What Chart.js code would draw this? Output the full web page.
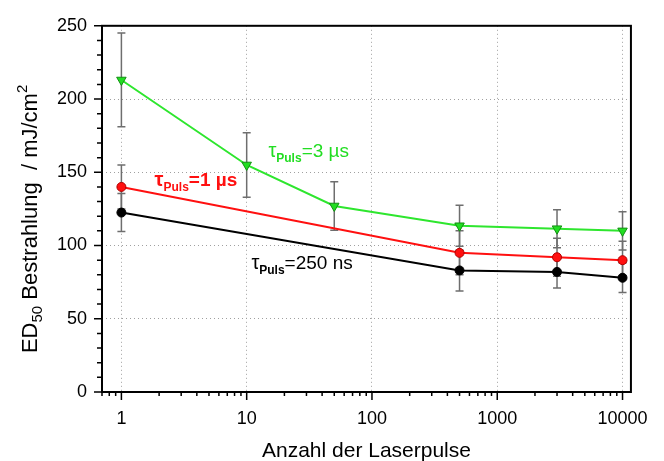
<!DOCTYPE html>
<html>
<head>
<meta charset="utf-8">
<script src="https://cdn.jsdelivr.net/npm/chart.js@4.4.0/dist/chart.umd.min.js"></script>
<style>
  html, body { margin: 0; padding: 0; background: #fff; }
</style>
</head>
<body>
<canvas id="edChart" width="664" height="461"></canvas>
<script>
// ED50 vs. number of laser pulses, one series per pulse duration
var pulses3us = [1, 10, 50, 500, 3000, 10000];
var ed3us = [213, 155, 127, 113.5, 111.5, 110];
var err3us = [32, 22, 16.5, 14, 13, 13];

var pulses1us = [1, 500, 3000, 10000];
var ed1us = [140, 95, 92, 90];
var err1us = [15, 15, 13, 13];

var pulses250ns = [1, 500, 3000, 10000];
var ed250ns = [122.5, 83, 82, 78];
var err250ns = [13, 14, 11, 10];

var xTicks = [1, 10, 100, 1000, 10000];
var yTicks = [0, 50, 100, 150, 200, 250];

var FONT = '"Liberation Sans", Arial, sans-serif';

function toPoints(xs, ys) {
  return xs.map(function (x, i) { return { x: x, y: ys[i] }; });
}

// frame, tick marks, error bars, curve labels and axis titles
var decorations = {
  id: 'decorations',
  beforeDatasetsDraw: function (chart) {
    var ctx = chart.ctx, xs = chart.scales.x, ys = chart.scales.y;
    ctx.save();
    ctx.strokeStyle = '#6e6e6e';
    ctx.lineWidth = 1.5;
    chart.data.datasets.forEach(function (ds) {
      ds.data.forEach(function (p, j) {
        var e = ds.errors[j];
        var px = xs.getPixelForValue(p.x);
        var top = ys.getPixelForValue(p.y + e);
        var bot = ys.getPixelForValue(p.y - e);
        ctx.beginPath();
        ctx.moveTo(px, top); ctx.lineTo(px, bot);
        ctx.moveTo(px - 4, top); ctx.lineTo(px + 4, top);
        ctx.moveTo(px - 4, bot); ctx.lineTo(px + 4, bot);
        ctx.stroke();
      });
    });
    ctx.restore();
  },
  afterDraw: function (chart) {
    var ctx = chart.ctx, a = chart.chartArea;
    var xs = chart.scales.x, ys = chart.scales.y;
    ctx.save();
    ctx.strokeStyle = '#000';

    // tick marks
    ctx.lineWidth = 1.5;
    ctx.beginPath();
    for (var d = 0.1; d <= 10000; d *= 10) {
      for (var k = 1; k <= 9; k++) {
        var v = d * k;
        if (v < xs.min || v > xs.max) continue;
        var px = xs.getPixelForValue(v);
        ctx.moveTo(px, a.bottom);
        ctx.lineTo(px, a.bottom + (k === 1 ? 8 : 4));
      }
    }
    for (var y = 0; y <= 250; y += 10) {
      var py = ys.getPixelForValue(y);
      ctx.moveTo(a.left, py);
      ctx.lineTo(a.left - (y % 50 === 0 ? 8 : 5), py);
    }
    ctx.stroke();

    // frame
    ctx.lineWidth = 2;
    ctx.strokeRect(a.left, a.top, a.right - a.left, a.bottom - a.top);

    // curve labels: tau with bold subscript
    var labels = [
      { x: 14.9, y: 160.4, main: '=3 µs', color: '#22dd22', weight: '' },
      { x: 1.84, y: 140.6, main: '=1 µs', color: '#ff1010', weight: 'bold ' },
      { x: 10.9, y: 83.8, main: '=250 ns', color: '#000', weight: '' }
    ];
    ctx.textBaseline = 'alphabetic';
    ctx.textAlign = 'left';
    labels.forEach(function (l) {
      var lx = xs.getPixelForValue(l.x);
      var ly = ys.getPixelForValue(l.y);
      ctx.fillStyle = l.color;
      ctx.font = l.weight + '20px ' + FONT;
      ctx.fillText('τ', lx, ly);
      lx += ctx.measureText('τ').width;
      ctx.font = 'bold 12px ' + FONT;
      ctx.fillText('Puls', lx, ly + 5);
      lx += ctx.measureText('Puls').width;
      ctx.font = l.weight + '19px ' + FONT;
      ctx.fillText(l.main, lx, ly);
    });

    // x axis title
    ctx.fillStyle = '#000';
    ctx.font = '21px ' + FONT;
    ctx.textAlign = 'center';
    ctx.fillText('Anzahl der Laserpulse', (a.left + a.right) / 2, 457);

    // y axis title with subscript and superscript
    var parts = [
      { t: 'ED', size: 22, dy: 0 },
      { t: '50', size: 15, dy: 5 },
      { t: ' Bestrahlung  / mJ/cm', size: 22, dy: 0 },
      { t: '2', size: 15, dy: -10 }
    ];
    ctx.textAlign = 'left';
    var total = 0;
    parts.forEach(function (p) {
      ctx.font = p.size + 'px ' + FONT;
      p.w = ctx.measureText(p.t).width;
      total += p.w;
    });
    ctx.translate(37, (a.top + a.bottom) / 2 + 10);
    ctx.rotate(-Math.PI / 2);
    var cx = -total / 2;
    parts.forEach(function (p) {
      ctx.font = p.size + 'px ' + FONT;
      ctx.fillText(p.t, cx, p.dy);
      cx += p.w;
    });
    ctx.restore();
  }
};

var ctx = document.getElementById('edChart').getContext('2d');
var chart = new Chart(ctx, {
  type: 'scatter',
  data: {
    datasets: [
      {
        label: '250 ns',
        data: toPoints(pulses250ns, ed250ns),
        errors: err250ns,
        showLine: true,
        borderColor: '#000',
        backgroundColor: '#000',
        borderWidth: 2,
        pointRadius: 4.5,
        pointBorderWidth: 1
      },
      {
        label: '1 µs',
        data: toPoints(pulses1us, ed1us),
        errors: err1us,
        showLine: true,
        borderColor: '#ff1010',
        backgroundColor: '#ff1010',
        pointBorderColor: '#b00000',
        borderWidth: 2,
        pointRadius: 4.5,
        pointBorderWidth: 1
      },
      {
        label: '3 µs',
        data: toPoints(pulses3us, ed3us),
        errors: err3us,
        showLine: true,
        borderColor: '#2ee62e',
        backgroundColor: '#22dd22',
        pointBorderColor: '#139013',
        borderWidth: 2,
        pointStyle: 'triangle',
        rotation: 180,
        pointRadius: 5.5,
        pointBorderWidth: 1
      }
    ]
  },
  options: {
    responsive: false,
    animation: false,
    layout: { padding: { top: 18, right: 28, left: 0, bottom: 0 } },
    plugins: { legend: { display: false }, tooltip: { enabled: false } },
    scales: {
      x: {
        type: 'logarithmic',
        min: 0.708,
        max: 11670,
        afterBuildTicks: function (s) { s.ticks = xTicks.map(function (v) { return { value: v }; }); },
        afterFit: function (s) { s.height = 69; },
        grid: { color: '#a0a0a0', lineWidth: 1, drawTicks: false },
        border: { display: false, dash: [1, 3] },
        ticks: {
          padding: 16,
          color: '#000',
          font: { family: FONT, size: 18 },
          maxRotation: 0,
          autoSkip: false,
          callback: function (v) { return String(v); }
        }
      },
      y: {
        min: 0,
        max: 250,
        afterBuildTicks: function (s) { s.ticks = yTicks.map(function (v) { return { value: v }; }); },
        afterFit: function (s) { s.width = 102; },
        grid: { color: '#a0a0a0', lineWidth: 1, drawTicks: false },
        border: { display: false, dash: [1, 3] },
        ticks: {
          padding: 15,
          color: '#000',
          font: { family: FONT, size: 18 }
        }
      }
    }
  },
  plugins: [decorations]
});
</script>
</body>
</html>
